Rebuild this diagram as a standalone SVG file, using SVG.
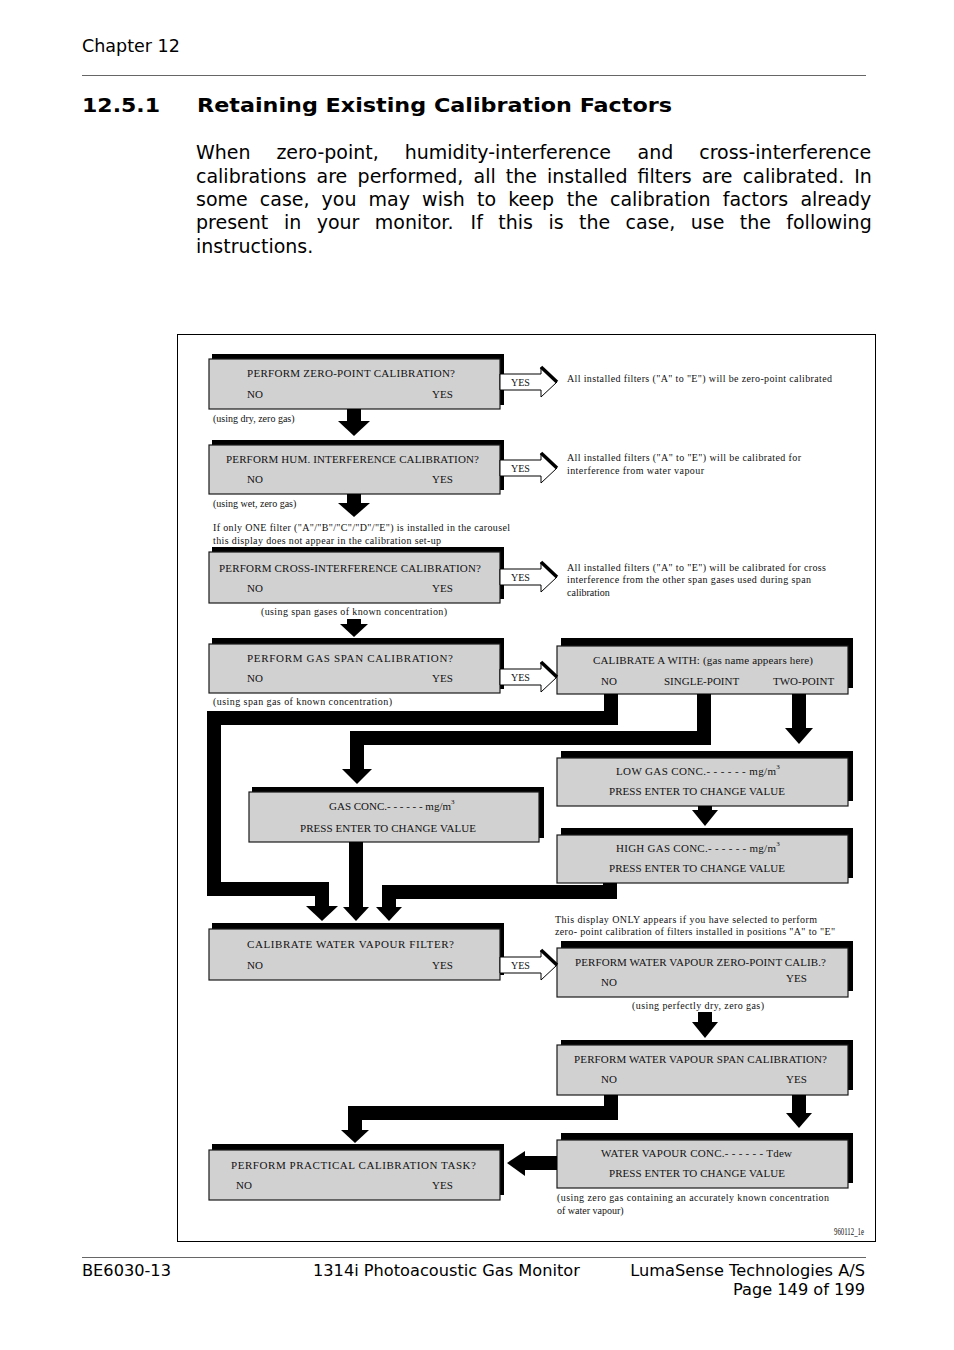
<svg xmlns="http://www.w3.org/2000/svg" width="954" height="1350" viewBox="0 0 954 1350">
<style>
.pg{font-family:"DejaVu Sans","Verdana",sans-serif;fill:#000}
.t{font-family:"Liberation Serif","Times New Roman",serif;font-size:11px;fill:#111}
.a{font-family:"Liberation Serif","Times New Roman",serif;font-size:10px;fill:#111}
.box{fill:#d1d1d1;stroke:#1a1a1a;stroke-width:1.2}
.sh{fill:#000}
.c{fill:none;stroke:#000;stroke-width:14;stroke-linejoin:miter}
.h{fill:#000}
.yes{fill:#fff;stroke:#000;stroke-width:1}
.yl{fill:none;stroke:#000;stroke-width:3.5}
</style>
<defs>
<g id="yesArrow">
<path class="yes" d="M500,-8 H541 V-15 L557,0 L541,15 V8 H500 Z"/>
<path class="yl" d="M541,-15 L557,0"/>
</g>
</defs>
<rect width="954" height="1350" fill="#fff"/>

<!-- page header -->
<g id="page">
<text class="pg" x="82" y="52" font-size="17.5">Chapter 12</text>
<line x1="82" y1="75.5" x2="866" y2="75.5" stroke="#666" stroke-width="1"/>
<text class="pg" x="82" y="112" font-size="20" font-weight="bold" textLength="78" lengthAdjust="spacingAndGlyphs">12.5.1</text>
<text class="pg" x="197" y="112" font-size="20" font-weight="bold" textLength="475" lengthAdjust="spacingAndGlyphs">Retaining Existing Calibration Factors</text>
<text class="pg" font-size="19" y="159"><tspan x="196">When</tspan><tspan x="276.4">zero-point,</tspan><tspan x="404.7">humidity-interference</tspan><tspan x="637.6">and</tspan><tspan x="699.2">cross-interference</tspan></text>
<text class="pg" font-size="19" y="183"><tspan x="196">calibrations</tspan><tspan x="316.5">are</tspan><tspan x="357.6">performed,</tspan><tspan x="473.6">all</tspan><tspan x="505.8">the</tspan><tspan x="547">installed</tspan><tspan x="637.6">filters</tspan><tspan x="701.7">are</tspan><tspan x="742.8">calibrated.</tspan><tspan x="854.2">In</tspan></text>
<text class="pg" font-size="19" y="206"><tspan x="196">some</tspan><tspan x="259.8">case,</tspan><tspan x="321.6">you</tspan><tspan x="368.6">may</tspan><tspan x="422.1">wish</tspan><tspan x="477">to</tspan><tspan x="508.2">keep</tspan><tspan x="566.7">the</tspan><tspan x="610">calibration</tspan><tspan x="722.7">factors</tspan><tspan x="800.4">already</tspan></text>
<text class="pg" font-size="19" y="229"><tspan x="196">present</tspan><tspan x="284">in</tspan><tspan x="316.7">your</tspan><tspan x="374.8">monitor.</tspan><tspan x="470.6">If</tspan><tspan x="498.3">this</tspan><tspan x="548.4">is</tspan><tspan x="579">the</tspan><tspan x="625.6">case,</tspan><tspan x="690.7">use</tspan><tspan x="739.7">the</tspan><tspan x="786.3">following</tspan></text>
<text class="pg" font-size="19" x="196" y="253">instructions.</text>
<line x1="82" y1="1257.5" x2="866" y2="1257.5" stroke="#666" stroke-width="1"/>
<text class="pg" font-size="16.2" x="82" y="1276">BE6030-13</text>
<text class="pg" font-size="16.2" x="313" y="1276">1314i Photoacoustic Gas Monitor</text>
<text class="pg" font-size="16.2" x="865" y="1276" text-anchor="end">LumaSense Technologies A/S</text>
<text class="pg" font-size="16.2" x="865" y="1295" text-anchor="end">Page 149 of 199</text>
</g>

<rect x="177.5" y="334.5" width="698" height="907" fill="none" stroke="#000" stroke-width="1"/>

<!-- nodes -->
<g id="n-zero">
<rect class="sh" x="212" y="354" width="292" height="51"/>
<rect class="box" x="209" y="359" width="291" height="50"/>
<text class="t" x="247" y="377" textLength="208">PERFORM ZERO-POINT CALIBRATION?</text>
<text class="t" x="247" y="398">NO</text><text class="t" x="432" y="398">YES</text>
<text class="a" x="213" y="422">(using dry, zero gas)</text>
</g>
<g id="n-hum">
<rect class="sh" x="212" y="440" width="292" height="50"/>
<rect class="box" x="209" y="445" width="291" height="49"/>
<text class="t" x="226" y="463" textLength="253">PERFORM HUM. INTERFERENCE CALIBRATION?</text>
<text class="t" x="247" y="483">NO</text><text class="t" x="432" y="483">YES</text>
<text class="a" x="213" y="507">(using wet, zero gas)</text>
<text class="a" x="213" y="531" textLength="297">If only ONE filter ("A"/"B"/"C"/"D"/"E") is installed in the carousel</text>
<text class="a" x="213" y="544" textLength="228">this display does not appear in the calibration set-up</text>
</g>
<g id="n-cross">
<rect class="sh" x="212" y="547" width="292" height="52"/>
<rect class="box" x="209" y="552" width="291" height="51"/>
<text class="t" x="219" y="572" textLength="262">PERFORM CROSS-INTERFERENCE CALIBRATION?</text>
<text class="t" x="247" y="592">NO</text><text class="t" x="432" y="592">YES</text>
<text class="a" x="261" y="615" textLength="186">(using span gases of known concentration)</text>
</g>
<g id="n-span">
<rect class="sh" x="212" y="638" width="292" height="51"/>
<rect class="box" x="209" y="644" width="291" height="49"/>
<text class="t" x="247" y="662" textLength="206">PERFORM GAS SPAN CALIBRATION?</text>
<text class="t" x="247" y="682">NO</text><text class="t" x="432" y="682">YES</text>
<text class="a" x="213" y="705" textLength="179">(using span gas of known concentration)</text>
</g>
<g id="n-calA">
<rect class="sh" x="561" y="638" width="292" height="50"/>
<rect class="box" x="557" y="646" width="291" height="48"/>
<text class="t" x="593" y="664" textLength="220">CALIBRATE A WITH:   (gas name appears here)</text>
<text class="t" x="601" y="685">NO</text><text class="t" x="664" y="685">SINGLE-POINT</text><text class="t" x="773" y="685">TWO-POINT</text>
</g>
<g id="n-low">
<rect class="sh" x="561" y="751" width="292" height="50"/>
<rect class="box" x="557" y="758" width="291" height="48"/>
<text class="t" x="616" y="775"><tspan textLength="160">LOW GAS CONC.- - - - - - mg/m</tspan><tspan font-size="7" dy="-6">3</tspan></text>
<text class="t" x="609" y="795" textLength="176">PRESS ENTER TO CHANGE VALUE</text>
</g>
<g id="n-high">
<rect class="sh" x="561" y="828" width="292" height="50"/>
<rect class="box" x="557" y="835" width="291" height="48"/>
<text class="t" x="616" y="852"><tspan textLength="160">HIGH GAS CONC.- - - - - - mg/m</tspan><tspan font-size="7" dy="-6">3</tspan></text>
<text class="t" x="609" y="872" textLength="176">PRESS ENTER TO CHANGE VALUE</text>
</g>
<g id="n-gasconc">
<rect class="sh" x="252" y="787" width="292" height="51"/>
<rect class="box" x="249" y="792" width="290" height="50"/>
<text class="t" x="329" y="810"><tspan textLength="122">GAS CONC.- - - - - - mg/m</tspan><tspan font-size="7" dy="-6">3</tspan></text>
<text class="t" x="300" y="832" textLength="176">PRESS ENTER TO CHANGE VALUE</text>
</g>
<g id="n-cwv">
<rect class="sh" x="212" y="923" width="292" height="52"/>
<rect class="box" x="209" y="929" width="291" height="51"/>
<text class="t" x="247" y="948" textLength="207">CALIBRATE   WATER VAPOUR   FILTER?</text>
<text class="t" x="247" y="969">NO</text><text class="t" x="432" y="969">YES</text>
</g>
<g id="n-wvzero">
<text class="a" x="555" y="923" textLength="262">This display ONLY appears if you have selected to perform</text>
<text class="a" x="555" y="935" textLength="280">zero- point calibration of filters installed in positions "A" to "E"</text>
<rect class="sh" x="561" y="941" width="292" height="50"/>
<rect class="box" x="557" y="948" width="291" height="49"/>
<text class="t" x="575" y="966" textLength="251">PERFORM WATER VAPOUR ZERO-POINT CALIB.?</text>
<text class="t" x="601" y="986">NO</text><text class="t" x="786" y="982">YES</text>
<text class="a" x="632" y="1009" textLength="132">(using perfectly dry, zero gas)</text>
</g>
<g id="n-wvspan">
<rect class="sh" x="561" y="1040" width="292" height="50"/>
<rect class="box" x="557" y="1045" width="291" height="50"/>
<text class="t" x="574" y="1063" textLength="253">PERFORM WATER VAPOUR SPAN CALIBRATION?</text>
<text class="t" x="601" y="1083">NO</text><text class="t" x="786" y="1083">YES</text>
</g>
<g id="n-wvconc">
<rect class="sh" x="561" y="1133" width="292" height="50"/>
<rect class="box" x="557" y="1140" width="291" height="48"/>
<text class="t" x="601" y="1157" textLength="191">WATER VAPOUR   CONC.- - - - - - Tdew</text>
<text class="t" x="609" y="1177" textLength="176">PRESS ENTER TO CHANGE VALUE</text>
<text class="a" x="557" y="1201" textLength="272">(using zero gas containing an accurately known concentration</text>
<text class="a" x="557" y="1214">of water vapour)</text>
</g>
<g id="n-practical">
<rect class="sh" x="212" y="1144" width="292" height="51"/>
<rect class="box" x="209" y="1150" width="291" height="50"/>
<text class="t" x="231" y="1169" textLength="245">PERFORM   PRACTICAL   CALIBRATION   TASK?</text>
<text class="t" x="236" y="1189">NO</text><text class="t" x="432" y="1189">YES</text>
</g>
<g id="notes">
<text class="a" x="567" y="382" textLength="265">All installed filters ("A" to "E") will be zero-point calibrated</text>
<text class="a" x="567" y="461" textLength="234">All installed filters ("A" to "E") will be calibrated for</text>
<text class="a" x="567" y="474" textLength="137">interference from water vapour</text>
<text class="a" x="567" y="571" textLength="259">All installed filters ("A" to "E") will be calibrated for cross</text>
<text class="a" x="567" y="583" textLength="244">interference from the other span gases used during span</text>
<text class="a" x="567" y="596">calibration</text>
<text class="a" x="834" y="1235" font-size="6" fill="#777" textLength="30" lengthAdjust="spacingAndGlyphs">960112_1e</text>
</g>

<!-- connectors -->
<g id="connectors">
<use href="#yesArrow" transform="translate(0,382)"/>
<text class="a" x="511" y="386">YES</text>
<use href="#yesArrow" transform="translate(0,468)"/>
<text class="a" x="511" y="472">YES</text>
<use href="#yesArrow" transform="translate(0,577)"/>
<text class="a" x="511" y="581">YES</text>
<use href="#yesArrow" transform="translate(0,677)"/>
<text class="a" x="511" y="681">YES</text>
<use href="#yesArrow" transform="translate(0,965)"/>
<text class="a" x="511" y="969">YES</text>

<path class="c" d="M354,409 V422"/><polygon class="h" points="338,421 370,421 354,436"/>
<path class="c" d="M354,494 V504"/><polygon class="h" points="338,503 370,503 354,517"/>
<path class="c" d="M354,619 V625"/><polygon class="h" points="340,624 368,624 354,637"/>
<path class="c" d="M611,694 V718 H214 V889 H322 V907"/><polygon class="h" points="306,906 338,906 322,921"/>
<path class="c" d="M704,694 V738 H357 V770"/><polygon class="h" points="342,769 372,769 357,784"/>
<path class="c" d="M799,694 V729"/><polygon class="h" points="785,728 813,728 799,744"/>
<path class="c" d="M705,806 V811"/><polygon class="h" points="692,810 718,810 705,826"/>
<path class="c" d="M356,842 V908"/><polygon class="h" points="343,907 369,907 356,921"/>
<path class="c" d="M610,883 V892 H389 V908"/><polygon class="h" points="376,907 402,907 389,921"/>
<path class="c" d="M705,1012 V1023"/><polygon class="h" points="692,1022 718,1022 705,1038"/>
<path class="c" d="M611,1095 V1113 H355 V1131"/><polygon class="h" points="341,1130 369,1130 355,1143"/>
<path class="c" d="M799,1095 V1114"/><polygon class="h" points="786,1113 812,1113 799,1128"/>
<path class="c" d="M557,1163 H524"/><polygon class="h" points="525,1151 525,1176 507,1163"/>
</g>
</svg>
